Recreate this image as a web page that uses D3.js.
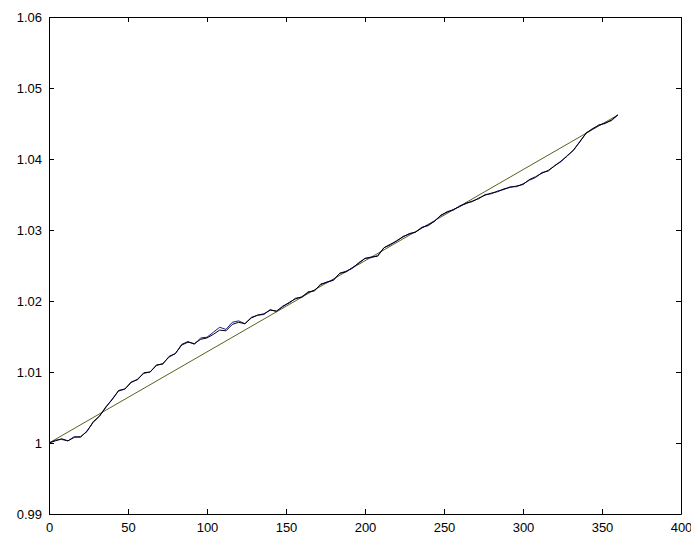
<!DOCTYPE html>
<html>
<head>
<meta charset="utf-8">
<script src="https://cdn.jsdelivr.net/npm/d3@7"></script>
<style>
  body { margin: 0; background: #fff; }
  #chart { width: 691px; height: 536px; }
  text { font-family: "Liberation Sans", Arial, sans-serif; }
</style>
</head>
<body>
<div id="chart"></div>
<script>
// data
const xTicks = [0, 50, 100, 150, 200, 250, 300, 350, 400];
const yTicks = [0.99, 1, 1.01, 1.02, 1.03, 1.04, 1.05, 1.06];

const steps = d3.range(0, 361, 4);
const blueVals = [
  1.0000, 1.0004, 1.0005, 1.0003, 1.0009, 1.0008, 1.0017, 1.0029, 1.0038, 1.0050,
  1.0062, 1.0073, 1.0076, 1.0085, 1.0090, 1.0098, 1.0100, 1.0109, 1.0112, 1.0121,
  1.0126, 1.0139, 1.0143, 1.0139, 1.0148, 1.0149, 1.0156, 1.0163, 1.0160, 1.0170,
  1.0172, 1.0168, 1.0177, 1.0180, 1.0181, 1.0188, 1.0185, 1.0193, 1.0197, 1.0204,
  1.0205, 1.0213, 1.0214, 1.0224, 1.0226, 1.0230, 1.0239, 1.0242, 1.0246, 1.0254,
  1.0260, 1.0261, 1.0264, 1.0275, 1.0280, 1.0284, 1.0291, 1.0294, 1.0297, 1.0304,
  1.0306, 1.0313, 1.0320, 1.0326, 1.0328, 1.0334, 1.0337, 1.0341, 1.0344, 1.0350,
  1.0351, 1.0355, 1.0357, 1.0361, 1.0361, 1.0365, 1.0370, 1.0374, 1.0381, 1.0383,
  1.0391, 1.0396, 1.0405, 1.0412, 1.0425, 1.0436, 1.0443, 1.0447, 1.0451, 1.0454,
  1.0462
];
const blackVals = [
  1.0000, 1.0003, 1.0006, 1.0003, 1.0008, 1.0009, 1.0016, 1.0030, 1.0038, 1.0051,
  1.0061, 1.0074, 1.0076, 1.0086, 1.0089, 1.0099, 1.0100, 1.0110, 1.0111, 1.0122,
  1.0126, 1.0138, 1.0142, 1.0140, 1.0146, 1.0148, 1.0153, 1.0159, 1.0158, 1.0167,
  1.0170, 1.0168, 1.0176, 1.0180, 1.0182, 1.0187, 1.0186, 1.0192, 1.0198, 1.0203,
  1.0206, 1.0212, 1.0215, 1.0223, 1.0227, 1.0229, 1.0239, 1.0241, 1.0247, 1.0253,
  1.0260, 1.0262, 1.0263, 1.0275, 1.0279, 1.0285, 1.0290, 1.0295, 1.0297, 1.0303,
  1.0307, 1.0312, 1.0321, 1.0325, 1.0329, 1.0333, 1.0338, 1.0340, 1.0345, 1.0349,
  1.0352, 1.0354, 1.0358, 1.0360, 1.0362, 1.0364, 1.0371, 1.0375, 1.0380, 1.0384,
  1.0390, 1.0397, 1.0404, 1.0413, 1.0424, 1.0437, 1.0442, 1.0448, 1.0450, 1.0455,
  1.0462
];
const fitX = [0, 360];
const fitY = [1.0, 1.0462];

const W = 691, H = 536;
const margin = { top: 17, right: 10, bottom: 22, left: 49 };
const width = W - margin.left - margin.right;
const height = H - margin.top - margin.bottom;

const svg = d3.select("#chart").append("svg")
    .attr("width", W)
    .attr("height", H)
    .append("g")
    .attr("transform", `translate(${margin.left},${margin.top})`);

const x = d3.scaleLinear().domain([0, 400]).range([0, width]);
const y = d3.scaleLinear().domain([0.99, 1.06]).range([height, 0]);

const fmtY = d => d3.format(".2f")(d).replace(/\.?0+$/, "");

// axes with inward ticks, mirrored on top and right
svg.append("g")
    .attr("transform", `translate(0,${height})`)
    .call(d3.axisBottom(x).tickValues(xTicks).tickSizeInner(-5).tickSizeOuter(0).tickPadding(9))
    .call(g => g.selectAll("text").attr("font-size", 13).attr("fill", "#000"));

svg.append("g")
    .call(d3.axisLeft(y).tickValues(yTicks).tickFormat(fmtY).tickSizeInner(-5).tickSizeOuter(0).tickPadding(7))
    .call(g => g.selectAll("text").attr("font-size", 13).attr("fill", "#000"));

svg.append("g")
    .call(d3.axisTop(x).tickValues(xTicks).tickSizeInner(-5).tickSizeOuter(0).tickFormat(""));

svg.append("g")
    .attr("transform", `translate(${width},0)`)
    .call(d3.axisRight(y).tickValues(yTicks).tickSizeInner(-5).tickSizeOuter(0).tickFormat(""));

svg.selectAll(".domain, .tick line").attr("stroke", "#000");

// lines
const line = d3.line().x(d => x(d[0])).y(d => y(d[1]));

svg.append("path")
    .datum(fitX.map((v, i) => [v, fitY[i]]))
    .attr("fill", "none")
    .attr("stroke", "#5e5e1c")
    .attr("stroke-width", 1)
    .attr("d", line);

svg.append("path")
    .datum(steps.map((v, i) => [v, blueVals[i]]))
    .attr("fill", "none")
    .attr("stroke", "#1a1aa0")
    .attr("stroke-width", 1)
    .attr("d", line);

svg.append("path")
    .datum(steps.map((v, i) => [v, blackVals[i]]))
    .attr("fill", "none")
    .attr("stroke", "#000")
    .attr("stroke-width", 1)
    .attr("d", line);
</script>
</body>
</html>
